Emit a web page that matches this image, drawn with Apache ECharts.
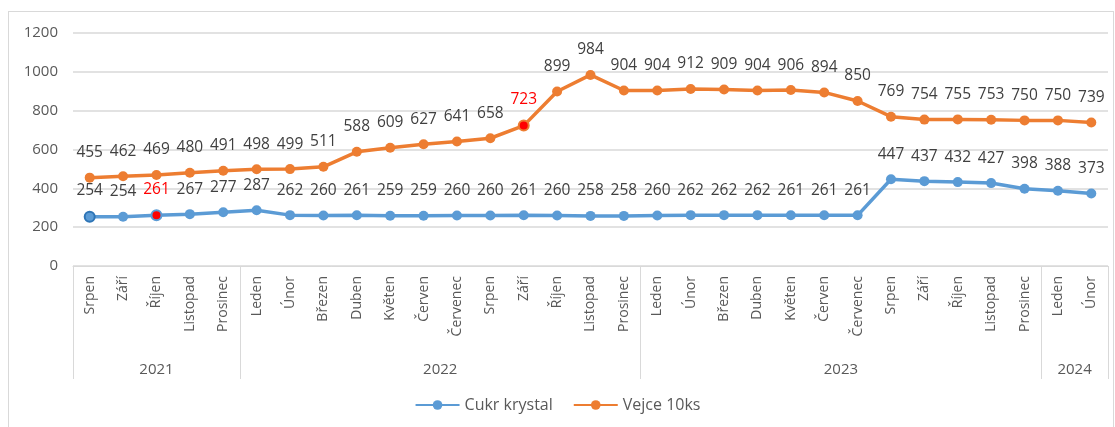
<!DOCTYPE html>
<html>
<head>
<meta charset="utf-8">
<script src="https://cdn.jsdelivr.net/npm/echarts@6/dist/echarts.min.js"></script>
<style>
    html, body { margin: 0; padding: 0; background: #fff; overflow: hidden; }
    #frame { position: absolute; left: 8px; top: 11px; width: 1104px; height: 430px; border: 1px solid #d9d9d9; }
    #myChart { position: absolute; left: 0; top: 0; width: 1115px; height: 427px; }
</style>
</head>
<body>
<div id="frame"></div>
<div id="myChart"></div>
<script>
// měsíce (srpen 2021 - únor 2024)
const months = [
    'Srpen', 'Září', 'Říjen', 'Listopad', 'Prosinec',
    'Leden', 'Únor', 'Březen', 'Duben', 'Květen', 'Červen', 'Červenec', 'Srpen', 'Září', 'Říjen', 'Listopad', 'Prosinec',
    'Leden', 'Únor', 'Březen', 'Duben', 'Květen', 'Červen', 'Červenec', 'Srpen', 'Září', 'Říjen', 'Listopad', 'Prosinec',
    'Leden', 'Únor'
];
const years = ['2021', '2022', '2023', '2024'];
const yearCounts = [5, 12, 12, 2];

const cukr = [254, 254, 261, 267, 277,
    287, 262, 260, 261, 259, 259, 260, 260, 261, 260, 258, 258,
    260, 262, 262, 262, 261, 261, 261, 447, 437, 432, 427, 398,
    388, 373];
const vejce = [455, 462, 469, 480, 491,
    498, 499, 511, 588, 609, 627, 641, 658, 723, 899, 984, 904,
    904, 912, 909, 904, 906, 894, 850, 769, 754, 755, 753, 750,
    750, 739];

const yTicks = [0, 200, 400, 600, 800, 1000, 1200];

// zvýrazněné body (index v datech)
const cukrRed = [2];
const vejceRed = [13];

const font = 'Open Sans';

// hranice a středy let pro druhou řadu popisků
let bounds = [0];
let centers = [];
let start = 0;
yearCounts.forEach(function (c) {
    centers.push(start + c / 2);
    start += c;
    bounds.push(start);
});

function buildData(values, redIdx, color) {
    return values.map(function (v, i) {
        if (redIdx.includes(i)) {
            return {
                value: v,
                itemStyle: { color: '#ff0000', borderColor: color, borderWidth: 2 },
                label: { color: '#ff0000' }
            };
        }
        return v;
    });
}

let cukrData = buildData(cukr, cukrRed, '#5b9bd5');
// první bod má tmavší okraj
cukrData[0] = { value: cukr[0], itemStyle: { borderColor: '#2e75b6', borderWidth: 2 } };
let vejceData = buildData(vejce, vejceRed, '#ed7d31');

let myChart = echarts.init(document.getElementById('myChart'));

let option = {
    animation: false,
    textStyle: { fontFamily: font },
    grid: { left: 73, right: 7, top: 33, bottom: 161 },
    legend: {
        bottom: 9,
        left: 'center',
        itemWidth: 44,
        itemHeight: 12,
        itemGap: 20,
        textStyle: { color: '#595959', fontSize: 16, fontFamily: font },
        data: ['Cukr krystal', 'Vejce 10ks']
    },
    xAxis: [
        {
            type: 'category',
            data: months,
            boundaryGap: true,
            axisLine: { lineStyle: { color: '#d9d9d9' } },
            axisTick: { show: false },
            axisLabel: {
                interval: 0,
                rotate: 90,
                margin: 10,
                color: '#595959',
                fontSize: 14,
                fontFamily: font
            }
        },
        {
            type: 'value',
            position: 'bottom',
            min: 0,
            max: months.length,
            axisLine: { show: false },
            splitLine: { show: false },
            axisTick: {
                show: true,
                customValues: bounds,
                length: 113,
                lineStyle: { color: '#d9d9d9' }
            },
            axisLabel: {
                customValues: centers,
                margin: 96,
                color: '#595959',
                fontSize: 15,
                fontFamily: font,
                formatter: function (v) {
                    let i = centers.indexOf(v);
                    return i >= 0 ? years[i] : '';
                }
            }
        }
    ],
    yAxis: {
        type: 'value',
        min: yTicks[0],
        max: yTicks[yTicks.length - 1],
        interval: yTicks[1] - yTicks[0],
        axisLine: { show: false },
        axisTick: { show: false },
        splitLine: { lineStyle: { color: '#d9d9d9', width: 1.5 } },
        axisLabel: {
            color: '#595959',
            fontSize: 15,
            margin: 15,
            fontFamily: font,
            formatter: function (v) { return String(v); }
        }
    },
    series: [
        {
            name: 'Cukr krystal',
            type: 'line',
            data: cukrData,
            symbol: 'circle',
            symbolSize: 10,
            color: '#5b9bd5',
            lineStyle: { width: 3.5 },
            label: { show: true, position: 'top', distance: 12, color: '#404040', fontSize: 15.5, fontFamily: font }
        },
        {
            name: 'Vejce 10ks',
            type: 'line',
            data: vejceData,
            symbol: 'circle',
            symbolSize: 10,
            color: '#ed7d31',
            lineStyle: { width: 3.5 },
            label: { show: true, position: 'top', distance: 12, color: '#404040', fontSize: 15.5, fontFamily: font }
        }
    ]
};

myChart.setOption(option);
</script>
</body>
</html>
